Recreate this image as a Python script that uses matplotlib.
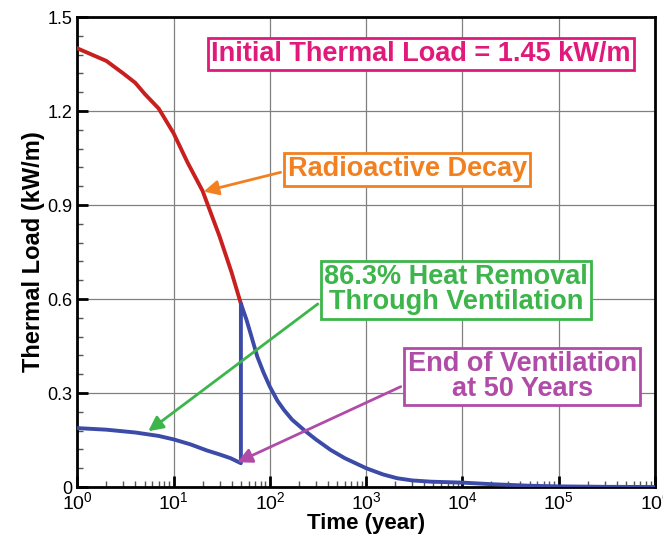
import matplotlib.pyplot as plt
import numpy as np
from matplotlib.ticker import FixedLocator, FuncFormatter, LogLocator, NullFormatter

plt.rcParams["font.family"] = ["Liberation Sans", "DejaVu Sans"]
plt.rcParams["mathtext.default"] = "regular"

# radioactive decay (no ventilation), up to 50 years
decay_t = [1, 2, 3, 4, 5, 7, 10, 14, 20, 30, 40, 50]
decay_q = [1.40, 1.36, 1.32, 1.29, 1.255, 1.208, 1.129, 1.035, 0.945, 0.80, 0.685, 0.585]

# load left in the drift with ventilation, then after ventilation ends
vent_t = [1, 2, 4, 7, 10, 15, 22, 30, 39, 50, 50, 57, 63, 74, 86, 100, 120, 140,
          170, 226, 300, 429, 600, 1000, 1500, 2100, 3000, 4700, 1e4, 2e4, 5e4,
          1e5, 3e5, 1e6]
vent_q = [0.188, 0.183, 0.174, 0.163, 0.152, 0.136, 0.117, 0.104, 0.092, 0.076,
          0.585, 0.535, 0.49, 0.416, 0.365, 0.32, 0.275, 0.246, 0.215, 0.182,
          0.152, 0.118, 0.092, 0.060, 0.040, 0.028, 0.021, 0.017, 0.014, 0.009,
          0.004, 0.002, 0.0006, 0.0]

y_ticks = [0, 0.3, 0.6, 0.9, 1.2, 1.5]

RED = "#c8201e"
BLUE = "#3c4aa8"
PINK = "#e0197a"
ORANGE = "#f08020"
GREEN = "#3cb54a"
PURPLE = "#b04ca8"

fig = plt.figure(figsize=(6.63, 5.35), dpi=100)
ax = fig.add_axes([0.1166, 0.0897, 0.8714, 0.8785])

ax.plot(decay_t, decay_q, color=RED, lw=2.8, zorder=3)
ax.plot(vent_t, vent_q, color=BLUE, lw=2.8, zorder=3)

ax.set_xscale("log")
ax.set_xlim(1, 1e6)
ax.set_ylim(0, 1.5)
ax.xaxis.set_major_locator(LogLocator(base=10, numticks=10))
ax.xaxis.set_minor_locator(LogLocator(base=10, subs=np.arange(2, 10), numticks=20))
ax.xaxis.set_minor_formatter(NullFormatter())
ax.yaxis.set_major_locator(FixedLocator(y_ticks))
ax.yaxis.set_minor_locator(FixedLocator(np.arange(0, 1.5001, 0.06)))
ax.yaxis.set_major_formatter(FuncFormatter(lambda v, p: "0" if v == 0 else f"{v:.1f}"))

ax.grid(True, which="major", color="#808080", lw=0.9)
ax.tick_params(which="both", direction="in", top=False, right=False)
ax.tick_params(axis="y", labelsize=13)
ax.tick_params(axis="x", labelsize=14, pad=3)
ax.tick_params(which="major", length=8, width=2)
ax.tick_params(which="minor", length=4, width=1, color="#555555")
for s in ax.spines.values():
    s.set_linewidth(2)

ax.set_xlabel("Time (year)", fontsize=16, fontweight="bold", labelpad=0)
ax.set_ylabel("Thermal Load (kW/m)", fontsize=17, fontweight="bold", labelpad=2)


def box(color):
    return dict(boxstyle="square,pad=0.12", fc="white", ec=color, lw=2)


FS = 19.5

ax.text(3725, 1.382, "Initial Thermal Load = 1.45 kW/m", color=PINK, fontsize=FS,
        fontweight="bold", ha="center", va="center", bbox=box(PINK), zorder=5)

arrow = dict(arrowstyle="-|>", lw=2, mutation_scale=22, shrinkB=0)

ax.annotate("Radioactive Decay", xy=(20.5, 0.943), xytext=(2667, 1.014),
            color=ORANGE, fontsize=FS, fontweight="bold", ha="center", va="center",
            bbox=box(ORANGE), arrowprops=dict(arrow, color=ORANGE, relpos=(0, 0.45)),
            zorder=5)
ax.annotate("86.3% Heat Removal\nThrough Ventilation", xy=(5.46, 0.178), xytext=(8600, 0.629),
            color=GREEN, fontsize=FS, fontweight="bold", ha="center", va="center",
            linespacing=0.95, bbox=box(GREEN),
            arrowprops=dict(arrow, color=GREEN, relpos=(0, 0.32)), zorder=5)
ax.annotate("End of Ventilation\nat 50 Years", xy=(45.9, 0.079), xytext=(41600, 0.353),
            color=PURPLE, fontsize=FS, fontweight="bold", ha="center", va="center",
            linespacing=0.95, bbox=box(PURPLE),
            arrowprops=dict(arrow, color=PURPLE, relpos=(0, 0.36)), zorder=5)

fig.savefig("out.png", dpi=100)
